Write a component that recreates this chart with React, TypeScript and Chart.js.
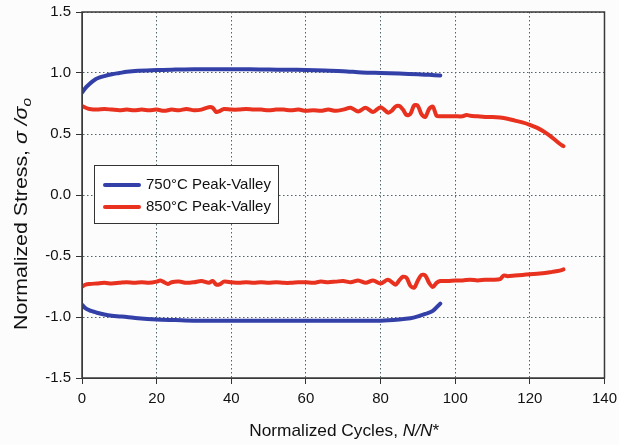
import { useEffect, useRef } from "react";
import { Chart, registerables } from "chart.js";

Chart.register(...registerables);

// ---- data ----
const X_750_PEAK = [0, 1, 2, 3, 4, 6, 8, 10, 12, 15, 20, 25, 30, 35, 40, 45, 50, 55, 60, 65, 70, 75, 80, 85, 90, 93, 96];
const Y_750_PEAK = [0.84, 0.88, 0.91, 0.935, 0.955, 0.975, 0.99, 1.0, 1.01, 1.018, 1.025, 1.028, 1.03, 1.03, 1.03, 1.03, 1.028, 1.027, 1.025, 1.02, 1.015, 1.005, 1.0, 0.995, 0.99, 0.985, 0.98];

const X_750_VALLEY = [0, 1, 2, 3, 4, 6, 8, 10, 12, 15, 20, 25, 30, 35, 40, 45, 50, 55, 60, 65, 70, 75, 80, 85, 88, 90, 92, 94, 96];
const Y_750_VALLEY = [-0.9, -0.93, -0.945, -0.955, -0.965, -0.98, -0.99, -0.995, -1.0, -1.01, -1.02, -1.025, -1.03, -1.03, -1.03, -1.03, -1.03, -1.03, -1.03, -1.03, -1.03, -1.03, -1.03, -1.02, -1.01, -0.995, -0.975, -0.95, -0.89];

const X_850_PEAK = [0, 1, 2, 4, 6, 8, 10, 12, 14, 16, 18, 20, 22, 24, 26, 28, 30, 32, 34, 35, 36, 37, 38, 40, 42, 44, 46, 48, 50, 52, 54, 56, 58, 60, 62, 64, 66, 68, 70, 72, 74, 76, 78, 80, 82, 83, 84, 85, 86, 87, 88, 89, 90, 91, 92, 93, 94, 95, 96, 98, 100, 102, 103, 104, 106, 108, 110, 112, 114, 116, 118, 120, 122, 124, 126, 128, 129];
const Y_850_PEAK = [0.73, 0.715, 0.705, 0.7, 0.705, 0.7, 0.695, 0.7, 0.695, 0.7, 0.695, 0.7, 0.69, 0.7, 0.695, 0.705, 0.695, 0.7, 0.72, 0.715, 0.68, 0.69, 0.705, 0.7, 0.7, 0.705, 0.7, 0.7, 0.695, 0.7, 0.7, 0.695, 0.7, 0.69, 0.695, 0.69, 0.7, 0.69, 0.7, 0.715, 0.685, 0.715, 0.68, 0.72, 0.675, 0.69, 0.725, 0.73, 0.7, 0.655, 0.665, 0.735, 0.73, 0.66, 0.64, 0.705, 0.725, 0.65, 0.645, 0.645, 0.645, 0.645, 0.655, 0.65, 0.645, 0.64, 0.64, 0.635, 0.625, 0.61, 0.595, 0.575, 0.55, 0.515, 0.47, 0.42, 0.4];

const X_850_VALLEY = [0, 1, 2, 4, 6, 8, 10, 12, 14, 16, 18, 20, 21, 22, 23, 24, 26, 28, 30, 32, 34, 35, 36, 37, 38, 40, 42, 44, 46, 48, 50, 52, 54, 56, 58, 60, 62, 64, 66, 68, 70, 72, 74, 76, 78, 80, 82, 84, 85, 86, 87, 88, 89, 90, 91, 92, 93, 94, 95, 96, 98, 100, 102, 104, 106, 108, 110, 112, 113, 114, 116, 118, 120, 122, 124, 126, 128, 129];
const Y_850_VALLEY = [-0.75, -0.735, -0.73, -0.725, -0.72, -0.725, -0.72, -0.715, -0.72, -0.715, -0.72, -0.71, -0.7, -0.715, -0.73, -0.715, -0.71, -0.72, -0.715, -0.705, -0.72, -0.705, -0.735, -0.73, -0.71, -0.715, -0.72, -0.715, -0.72, -0.715, -0.72, -0.715, -0.72, -0.72, -0.715, -0.715, -0.72, -0.71, -0.715, -0.71, -0.705, -0.715, -0.7, -0.72, -0.7, -0.725, -0.695, -0.735, -0.7, -0.67, -0.68, -0.745, -0.76, -0.7, -0.655, -0.66, -0.72, -0.755, -0.72, -0.705, -0.705, -0.7, -0.7, -0.695, -0.7, -0.695, -0.695, -0.69, -0.66, -0.665, -0.66, -0.655, -0.65, -0.645, -0.64, -0.63, -0.62, -0.61];

const LEGEND_LABELS = ["750\u00B0C Peak-Valley", "850\u00B0C Peak-Valley"];
const BLUE = "#3340a8";
const RED = "#e8321f";

const toPts = (xs: number[], ys: number[]) => xs.map((x, i) => ({ x, y: ys[i] }));

const FONT = '"Liberation Sans", Arial, sans-serif';
const OY = 2; // canvas is shifted up by this many px

type Run = { t: string; italic?: boolean; sub?: boolean };

function drawRuns(ctx: CanvasRenderingContext2D, runs: Run[], size: number, targetWidth: number) {
  const fontFor = (r: Run) => `${r.italic ? "italic " : ""}${r.sub ? Math.round(size * 0.7) : size}px ${FONT}`;
  let total = 0;
  const widths = runs.map((r) => {
    ctx.font = fontFor(r);
    const w = ctx.measureText(r.t).width;
    total += w;
    return w;
  });
  ctx.scale(targetWidth / total, 1);
  let x = -total / 2;
  ctx.textBaseline = "middle";
  ctx.textAlign = "left";
  runs.forEach((r, i) => {
    ctx.font = fontFor(r);
    ctx.fillText(r.t, x, r.sub ? size * 0.3 : 0);
    x += widths[i];
  });
}

const decorPlugin = {
  id: "decor",
  beforeDraw(chart: any) {
    const ctx = chart.ctx;
    ctx.save();
    ctx.fillStyle = "#fcfcfd";
    ctx.fillRect(0, 0, chart.width, chart.height);
    ctx.restore();
  },
  afterDatasetsDraw(chart: any) {
    const { ctx, chartArea: a } = chart;
    ctx.save();
    ctx.strokeStyle = "#3a3a3a";
    ctx.lineWidth = 1.5;
    ctx.strokeRect(a.left, a.top, a.right - a.left, a.bottom - a.top);
    ctx.restore();
  },
  afterDraw(chart: any) {
    const { ctx, chartArea: a } = chart;
    // x title
    ctx.save();
    ctx.fillStyle = "#111";
    ctx.translate((a.left + a.right) / 2 + 1, 431 + OY);
    drawRuns(ctx, [{ t: "Normalized Cycles, " }, { t: "N/N", italic: true }, { t: "*" }], 17, 190);
    ctx.restore();
    // y title
    ctx.save();
    ctx.fillStyle = "#111";
    ctx.translate(22, 214 + OY);
    ctx.rotate(-Math.PI / 2);
    drawRuns(ctx, [{ t: "Normalized Stress, " }, { t: "\u03C3 /\u03C3", italic: true }, { t: "o", italic: true, sub: true }], 18, 232);
    ctx.restore();

    // legend
    ctx.save();
    const bx = 94, by = 165 + OY, bw = 184, bh = 58;
    ctx.fillStyle = "#ffffff";
    ctx.fillRect(bx, by, bw, bh);
    ctx.strokeStyle = "#333";
    ctx.lineWidth = 1;
    ctx.strokeRect(bx + 0.5, by + 0.5, bw, bh);
    const colors = [BLUE, RED];
    LEGEND_LABELS.forEach((lab, i) => {
      const ly = by + 20 + i * 22;
      ctx.strokeStyle = colors[i];
      ctx.lineWidth = 4;
      ctx.lineCap = "round";
      ctx.beginPath();
      ctx.moveTo(105, ly);
      ctx.lineTo(139, ly);
      ctx.stroke();
      ctx.fillStyle = "#111";
      ctx.font = `15px ${FONT}`;
      ctx.textBaseline = "middle";
      ctx.textAlign = "left";
      ctx.fillText(lab, 146, ly);
    });
    ctx.restore();
  },
};

export default function App() {
  const ref = useRef<HTMLCanvasElement | null>(null);
  useEffect(() => {
    if (!ref.current) return;
    const lineDs = (label: string, xs: number[], ys: number[], color: string) => ({
      label,
      data: toPts(xs, ys),
      borderColor: color,
      backgroundColor: color,
      borderWidth: 4,
      pointRadius: 0,
      tension: 0.3,
      borderCapStyle: "round" as const,
      borderJoinStyle: "round" as const,
      fill: false,
    });
    const chart = new Chart(ref.current, {
      type: "line",
      data: {
        datasets: [
          lineDs("750 peak", X_750_PEAK, Y_750_PEAK, BLUE),
          lineDs("750 valley", X_750_VALLEY, Y_750_VALLEY, BLUE),
          lineDs("850 peak", X_850_PEAK, Y_850_PEAK, RED),
          lineDs("850 valley", X_850_VALLEY, Y_850_VALLEY, RED),
        ],
      },
      options: {
        animation: false,
        responsive: false,
        devicePixelRatio: 1,
        layout: { padding: { left: 0, top: 12, right: 15, bottom: 0 } },
        plugins: { legend: { display: false }, tooltip: { enabled: false } },
        scales: {
          x: {
            type: "linear",
            min: 0,
            max: 140,
            ticks: { stepSize: 20, color: "#111", font: { size: 15, family: FONT }, padding: 6, maxRotation: 0 },
            grid: { color: "#4f6666", lineWidth: 1, tickColor: "#333", tickLength: 6, tickBorderDash: [], drawTicks: true },
            border: { dash: [1.5, 2.5], color: "#3a3a3a" },
            afterFit: (s: any) => { s.height = 67; },
          },
          y: {
            type: "linear",
            min: -1.5,
            max: 1.5,
            ticks: { stepSize: 0.5, color: "#111", font: { size: 15, family: FONT }, padding: 5, callback: (v: any) => Number(v).toFixed(1) },
            grid: { color: "#4f6666", lineWidth: 1, tickColor: "#333", tickLength: 6, tickBorderDash: [], drawTicks: true },
            border: { dash: [1.5, 2.5], color: "#3a3a3a" },
            afterFit: (s: any) => { s.width = 82; },
          },
        },
      },
      plugins: [decorPlugin],
    });
    return () => chart.destroy();
  }, []);
  return (
    <div style={{ position: "fixed", left: 0, top: 0, width: 619, height: 445, overflow: "hidden", background: "#fcfcfd" }}>
      <canvas ref={ref} width={623} height={447} style={{ position: "absolute", left: 0, top: -OY, width: 623, height: 447, display: "block" }} />
    </div>
  );
}
